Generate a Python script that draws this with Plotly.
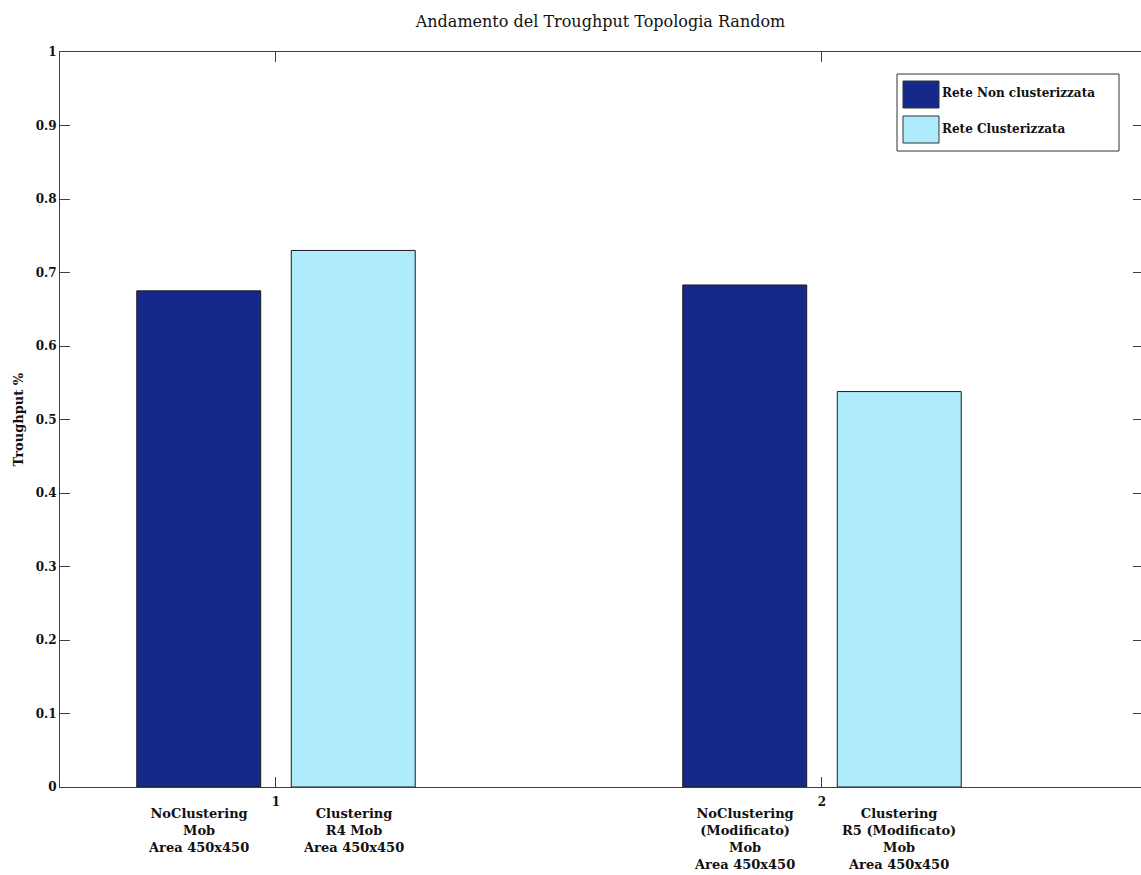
import plotly.graph_objects as go

# ---- data ----
group_positions = [1, 2]
series_names = ["Rete Non clusterizzata", "Rete Clusterizzata"]
non_clustered = [0.675, 0.683]
clustered = [0.730, 0.538]
labels_non = ["NoClustering<br>Mob<br>Area 450x450",
              "NoClustering<br>(Modificato)<br>Mob<br>Area 450x450"]
labels_clu = ["Clustering<br>R4 Mob<br>Area 450x450",
              "Clustering<br>R5 (Modificato)<br>Mob<br>Area 450x450"]
y_ticks = [0, 0.1, 0.2, 0.3, 0.4, 0.5, 0.6, 0.7, 0.8, 0.9, 1]
y_tick_text = ["0", "0.1", "0.2", "0.3", "0.4", "0.5", "0.6", "0.7", "0.8", "0.9", "1"]

# ---- style ----
W, H = 1141, 875
ML, MR, MT, MB = 60, 0, 52, 88
PW, PH = W - ML - MR, H - MT - MB
FONT = "DejaVu Serif"
C_DARK = "#15298a"
C_LIGHT = "#aeebfc"
AX = "#404040"
BAR_W = 0.227
OFFS = [-0.255, 0.028]

def px(xp):
    return (xp - ML) / PW

def py(yp):
    return (H - MB - yp) / PH

fig = go.Figure()
for vals, name, col, off in [(non_clustered, series_names[0], C_DARK, OFFS[0]),
                             (clustered, series_names[1], C_LIGHT, OFFS[1])]:
    fig.add_trace(go.Bar(x=group_positions, y=vals, name=name, width=BAR_W, offset=off,
                         marker=dict(color=col, line=dict(color="#1a1a1a", width=1)),
                         showlegend=False))

# invisible trace for right-side tick axis
fig.add_trace(go.Scatter(x=[group_positions[0]], y=[0], yaxis="y2", mode="markers",
                         marker=dict(opacity=0), showlegend=False, hoverinfo="skip"))

annotations = []
for i, g in enumerate(group_positions):
    for labels, off in [(labels_non, OFFS[0]), (labels_clu, OFFS[1])]:
        annotations.append(dict(x=g + off + BAR_W / 2, y=py(804), xref="x", yref="paper",
                                text="<b>" + labels[i] + "</b>", showarrow=False,
                                xanchor="center", yanchor="top",
                                font=dict(family=FONT, size=13, color="#111"), align="center"))

annotations.append(dict(x=px(18), y=0.5, xref="paper", yref="paper", text="<b>Troughput %</b>",
                        textangle=-90, showarrow=False, xanchor="center", yanchor="middle",
                        font=dict(family=FONT, size=13, color="#111")))

# custom MATLAB-like legend
shapes = [dict(type="rect", xref="paper", yref="paper", x0=px(897), x1=px(1119), y0=py(151), y1=py(74),
               line=dict(color="#333", width=1), fillcolor="white")]
for (y0, y1, col, name, yc) in [(108, 81, C_DARK, series_names[0], 93),
                                (143, 116, C_LIGHT, series_names[1], 129)]:
    shapes.append(dict(type="rect", xref="paper", yref="paper", x0=px(903), x1=px(939),
                       y0=py(y0), y1=py(y1), fillcolor=col, line=dict(color="#333", width=1)))
    annotations.append(dict(x=px(940), y=py(yc), xref="paper", yref="paper", text="<b>" + name + "</b>",
                            showarrow=False, xanchor="left", yanchor="middle",
                            font=dict(family=FONT, size=12, color="#111")))

fig.update_layout(
    width=W, height=H,
    margin=dict(l=ML, r=MR, t=MT, b=MB),
    paper_bgcolor="white", plot_bgcolor="white",
    barmode="overlay",
    title=dict(text="Andamento del Troughput Topologia Random", x=0.5, xref="paper",
               y=1 - 21 / H, yanchor="middle",
               font=dict(family=FONT, size=16, color="#111")),
    xaxis=dict(range=[0.6044, 2.5843], tickvals=group_positions,
               ticktext=["<b>%d</b>" % g for g in group_positions],
               ticks="inside", ticklen=10, tickcolor=AX, showline=True, linecolor=AX, linewidth=1,
               mirror="ticks", showgrid=False, zeroline=False, ticklabelstandoff=4,
               tickfont=dict(family=FONT, size=12, color="#111")),
    yaxis=dict(range=[0, 1], tickvals=y_ticks, ticktext=["<b>%s</b>" % t for t in y_tick_text],
               ticks="inside", ticklen=10, tickcolor=AX, showline=True, linecolor=AX, linewidth=1,
               showgrid=False, zeroline=False,
               tickfont=dict(family=FONT, size=12, color="#111")),
    yaxis2=dict(range=[0, 1], overlaying="y", side="right", tickvals=y_ticks, showticklabels=False,
                ticks="inside", ticklen=8, tickcolor=AX, showline=False, showgrid=False, zeroline=False),
    annotations=annotations,
    shapes=shapes,
)

fig.write_html("out.html", config={"displayModeBar": False},
               post_script="document.body.style.margin='0';document.body.style.overflow='hidden';")
